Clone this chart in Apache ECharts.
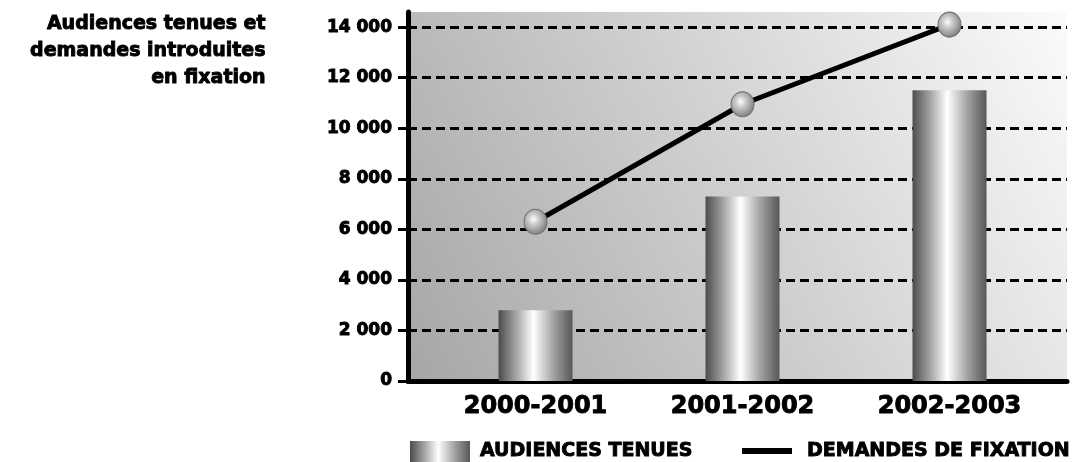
<!DOCTYPE html>
<html>
<head>
<meta charset="utf-8">
<script src="https://cdn.jsdelivr.net/npm/echarts@6/dist/echarts.min.js"></script>
<style>
html,body{margin:0;padding:0;background:#fff;}
#main{width:1072px;height:462px;}
</style>
</head>
<body>
<div id="main"></div>
<script>
var categories = ['2000-2001', '2001-2002', '2002-2003'];
var audiencesTenues = [2800, 7300, 11500];
var demandesFixation = [6300, 10950, 14100];
var yTickValues = [0, 2000, 4000, 6000, 8000, 10000, 12000, 14000];
var titleLines = ['Audiences tenues et', 'demandes introduites', 'en fixation'];
var seriesNames = ['AUDIENCES TENUES', 'DEMANDES DE FIXATION'];

var FONT = 'DejaVu Sans';
var chart = echarts.init(document.getElementById('main'));

function fmt(v) {
  return String(v).replace(/\B(?=(\d{3})+(?!\d))/g, ' ');
}

var barGradient = new echarts.graphic.LinearGradient(0, 0, 1, 0, [
  {offset: 0, color: '#4c4c4c'},
  {offset: 0.25, color: '#a8a8a8'},
  {offset: 0.47, color: '#ffffff'},
  {offset: 0.75, color: '#a0a0a0'},
  {offset: 1, color: '#575757'}
]);
var ballGradient = new echarts.graphic.RadialGradient(0.42, 0.4, 0.65, [
  {offset: 0, color: '#ffffff'},
  {offset: 0.3, color: '#cfcfcf'},
  {offset: 1, color: '#757575'}
]);
var bgGradient = new echarts.graphic.LinearGradient(0, 1, 1, 0, [
  {offset: 0, color: '#a6a6a6'},
  {offset: 0.5, color: '#d0d0d0'},
  {offset: 1, color: '#fbfbfb'}
]);
var heavy = {fontFamily: FONT, fontWeight: 'bold', color: '#000', textBorderColor: '#000', textBorderWidth: 0.9};

var titleGraphics = titleLines.map(function (line, i) {
  return {
    type: 'text', right: 806, top: 14 + i * 27,
    style: {
      text: line, fontSize: 19, fontFamily: FONT, fontWeight: 'bold', fill: '#000',
      stroke: '#000', lineWidth: 0.9
    }
  };
});

var option = {
  backgroundColor: '#ffffff',
  animation: false,
  graphic: titleGraphics,
  grid: [
    {left: 408, right: 5, top: 12, bottom: 81, show: true, backgroundColor: bgGradient, borderWidth: 0},
    {left: 432, right: 19, top: 12, bottom: 81}
  ],
  xAxis: [
    {
      gridIndex: 0, type: 'value', min: 0, max: 1,
      axisLine: {show: true, onZero: false, lineStyle: {color: '#000', width: 5}},
      axisTick: {show: false}, axisLabel: {show: false}, splitLine: {show: false}
    },
    {
      gridIndex: 1, type: 'category', data: categories,
      axisLine: {show: false}, axisTick: {show: false},
      axisLabel: Object.assign({margin: 14, fontSize: 24}, heavy)
    }
  ],
  yAxis: [
    {
      gridIndex: 0, type: 'value', min: 0, max: 14600, interval: 2000,
      axisLine: {show: true, lineStyle: {color: '#000', width: 5}},
      axisTick: {show: true, inside: false, length: 10, customValues: yTickValues, lineStyle: {color: '#000', width: 3}},
      axisLabel: Object.assign({
        customValues: yTickValues, margin: 16, fontSize: 17,
        formatter: function (v) { return v % 2000 === 0 ? fmt(v) : ''; }
      }, heavy),
      splitLine: {show: true, showMinLine: false, lineStyle: {color: '#000', width: 3, type: [9, 5]}}
    },
    {
      gridIndex: 1, type: 'value', min: 0, max: 14600, interval: 2000, show: false,
      splitLine: {show: false}
    }
  ],
  legend: [
    {
      data: [{name: seriesNames[0], icon: 'rect'}],
      left: 410, top: 441, itemWidth: 60, itemHeight: 21, padding: 0,
      textStyle: Object.assign({fontSize: 19, padding: [0, 0, 0, 5]}, heavy)
    },
    {
      data: [{name: seriesNames[1], icon: 'rect', itemStyle: {color: '#000', borderWidth: 0}}],
      left: 742, top: 441, itemWidth: 50, itemHeight: 6, padding: 0,
      itemStyle: {borderWidth: 0},
      lineStyle: {width: 0},
      textStyle: Object.assign({fontSize: 19, padding: [0, 0, 0, 10]}, heavy)
    }
  ],
  series: [
    {
      name: seriesNames[0], type: 'bar', xAxisIndex: 1, yAxisIndex: 1,
      data: audiencesTenues, barWidth: 74,
      itemStyle: {color: barGradient}
    },
    {
      name: seriesNames[1], type: 'line', xAxisIndex: 1, yAxisIndex: 1,
      data: demandesFixation, symbol: 'circle', symbolSize: [23, 25],
      lineStyle: {color: '#000', width: 5},
      itemStyle: {color: ballGradient, borderColor: '#6e6e6e', borderWidth: 1},
      z: 5
    }
  ]
};
chart.setOption(option);
</script>
</body>
</html>
